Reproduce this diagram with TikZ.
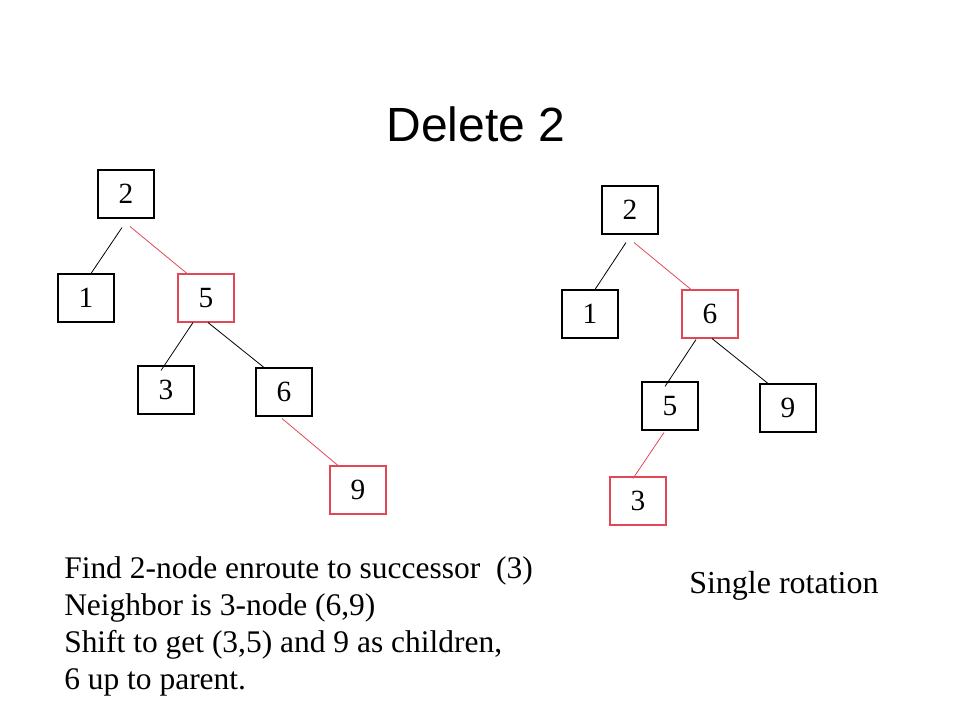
\documentclass[tikz,border=0pt]{standalone}
\usepackage{fontspec}
\setmainfont{Liberation Serif}
\newfontfamily\titlefont{Liberation Sans}
\usetikzlibrary{calc}
\definecolor{hl}{RGB}{224,72,88}
\tikzset{
  keybox/.style={draw=black, line width=0.8pt, minimum width=42pt, minimum height=36pt, inner sep=0pt, font=\fontsize{22}{26}\selectfont},
  redbox/.style={keybox, draw=hl},
  edge/.style={draw=black, line width=0.6pt},
  rededge/.style={draw=hl, line width=0.6pt},
  notes/.style={anchor=base west, align=left, inner sep=0pt, font=\fontsize{23.6}{27.6}\selectfont},
  caption/.style={anchor=base west, inner sep=0pt, font=\fontsize{24}{27.6}\selectfont}
}
\begin{document}
\begin{tikzpicture}[x=0.75pt,y=-0.75pt]
\useasboundingbox (0,0) rectangle (960,720);
\node[anchor=base, inner sep=0pt, font=\titlefont\fontsize{36}{40}\selectfont] (title) at (476,142) {Delete 2};
% left tree
\node[keybox] (L2) at (126,194) {2};
\node[keybox] (L1) at (86,298) {1};
\node[redbox] (L5) at (206,298) {5};
\node[keybox] (L3) at (166,390) {3};
\node[keybox] (L6) at (284,392) {6};
\node[redbox] (L9) at (358,490) {9};
\draw[edge] ($(L2.south)+(-4,9)$) -- ($(L1.north)+(5,0)$);
\draw[rededge] ($(L2.south)+(4,8)$) -- ($(L5.north)+(-19,0)$);
\draw[edge] ($(L5.south)+(-13,0)$) -- ($(L3.north)+(-5,5)$);
\draw[edge] ($(L5.south)+(2,0)$) -- ($(L6.north)+(-20,0)$);
\draw[rededge] ($(L6.south)+(-2,2)$) -- ($(L9.north)+(-20,0)$);
% right tree
\node[keybox] (R2) at (630,210) {2};
\node[keybox] (R1) at (590,314) {1};
\node[redbox] (R6) at (710,314) {6};
\node[keybox] (R5) at (670,406) {5};
\node[keybox] (R9) at (788,408) {9};
\node[redbox] (R3) at (638,501) {3};
\draw[edge] ($(R2.south)+(-4,8)$) -- ($(R1.north)+(5,0)$);
\draw[rededge] ($(R2.south)+(4,8)$) -- ($(R6.north)+(-19,0)$);
\draw[edge] ($(R6.south)+(-14,1)$) -- ($(R5.north)+(-5,5)$);
\draw[edge] ($(R6.south)+(2,0)$) -- ($(R9.north)+(-20,0)$);
\draw[rededge] ($(R5.south)+(-6,2)$) -- ($(R3.north)+(-5,2)$);
% texts
\node[notes] (expl) at (64,689) {Find 2-node enroute to successor\hspace{6pt} (3)\\Neighbor is 3-node (6,9)\\Shift to get (3,5) and 9 as children,\\6 up to parent.};
\node[caption] (rot) at (689,593) {Single rotation};
\end{tikzpicture}
\end{document}
